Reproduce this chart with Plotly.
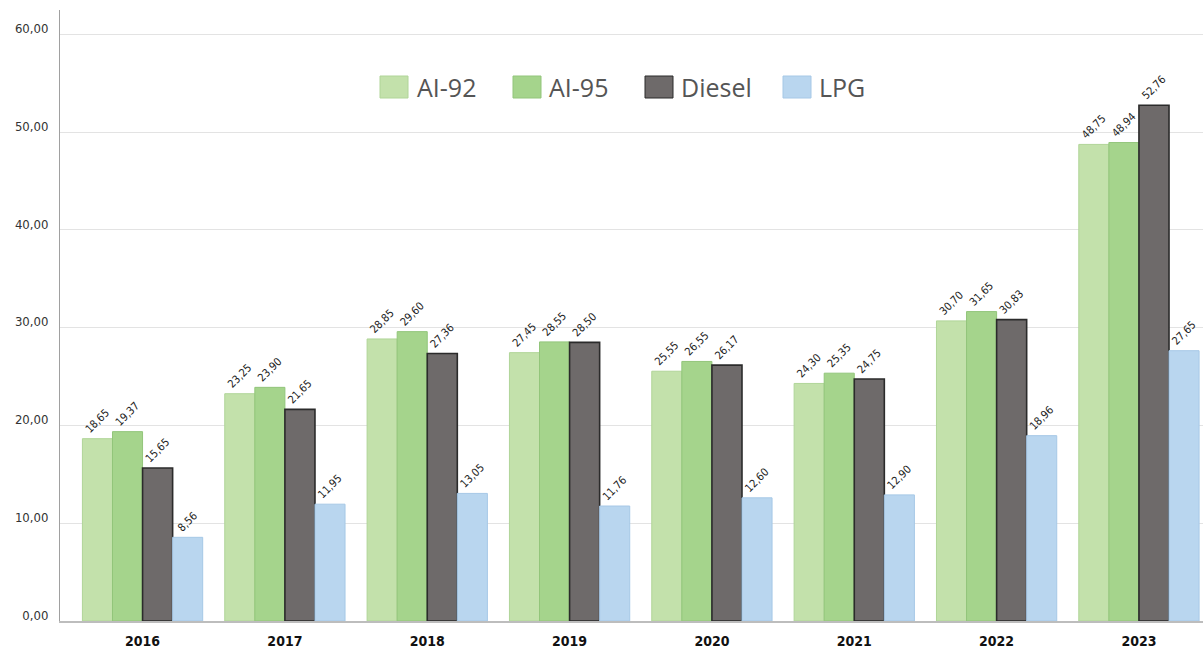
import plotly.graph_objects as go

years = ["2016", "2017", "2018", "2019", "2020", "2021", "2022", "2023"]
ai92 = [18.65, 23.25, 28.85, 27.45, 25.55, 24.30, 30.70, 48.75]
ai95 = [19.37, 23.90, 29.60, 28.55, 26.55, 25.35, 31.65, 48.94]
diesel = [15.65, 21.65, 27.36, 28.50, 26.17, 24.75, 30.83, 52.76]
lpg = [8.56, 11.95, 13.05, 11.76, 12.60, 12.90, 18.96, 27.65]

series_names = ["AI-92", "AI-95", "Diesel", "LPG"]
series_values = [ai92, ai95, diesel, lpg]
fills = ["#c3e1ab", "#a5d48c", "#6e6a6a", "#b9d6ef"]
edges = ["#b0d598", "#92c57a", "#2b2b2b", "#a6c8e6"]
edge_widths = [1, 1, 1.6, 1]

fig = go.Figure()
for name, vals, fc, ec, ew in zip(series_names, series_values, fills, edges, edge_widths):
    fig.add_trace(go.Bar(
        x=years, y=vals, name=name,
        marker=dict(color=fc, line=dict(color=ec, width=ew)),
        texttemplate="%{y:.2f}", textposition="outside", textangle=-45,
        textfont=dict(family="DejaVu Sans Condensed, Arial", size=11, color="#222222"),
        cliponaxis=False, showlegend=False,
    ))

# Legend drawn as swatches + labels across the top of the plot
L, T, W, H = 60, 10, 1143, 611
def px(x):
    return (x - L) / W
def py(y):
    return (T + H - y) / H

legend_items = [(380, 415), (513, 547), (645, 679), (783, 817)]
shapes = []
annotations = []
for (sx, tx), name, fc, ec in zip(legend_items, series_names, fills, edges):
    shapes.append(dict(type="rect", xref="paper", yref="paper",
                       x0=px(sx), x1=px(sx + 28), y0=py(98), y1=py(76),
                       fillcolor=fc, line=dict(color=ec, width=1)))
    annotations.append(dict(xref="paper", yref="paper", x=px(tx), y=py(87),
                            xanchor="left", yanchor="middle", showarrow=False,
                            text=name, font=dict(family="Open Sans", size=25, color="#555555")))

fig.update_layout(
    width=1203, height=650,
    margin=dict(l=L, r=0, t=T, b=650 - T - H),
    paper_bgcolor="white", plot_bgcolor="white",
    barmode="group", bargap=0.155, bargroupgap=0,
    separators=",.",
    shapes=shapes, annotations=annotations,
    xaxis=dict(range=[-0.58, 7.45], showgrid=False, ticks="",
               tickfont=dict(family="DejaVu Sans Condensed, Arial", size=14, color="#111111", weight="bold"),
               ticklabelstandoff=6,
               showline=True, linecolor="#bdbdbd", linewidth=2),
    yaxis=dict(range=[0, 62.5], dtick=10, tickformat=".2f",
               showgrid=True, gridcolor="#e3e3e3", gridwidth=1,
               tickfont=dict(family="DejaVu Sans Condensed, Arial", size=13, color="#333333"),
               ticklabelstandoff=8, ticklabelshift=-6,
               showline=True, linecolor="#a0a0a0", linewidth=1,
               ticks="", zeroline=False),
)

fig.write_html("out.html")
